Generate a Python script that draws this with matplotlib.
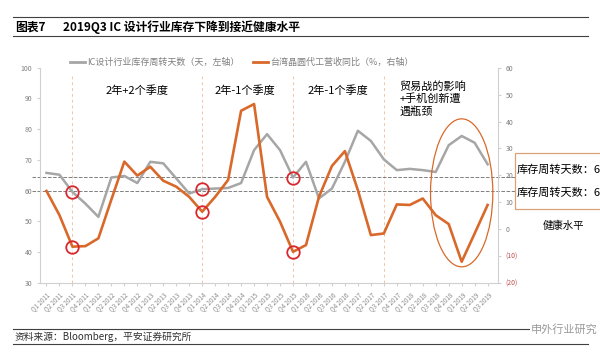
import numpy as np
import matplotlib
matplotlib.use('Agg')
from matplotlib import pyplot as plt
from matplotlib.patches import Ellipse, Rectangle

plt.rcParams['font.family'] = ['Noto Sans CJK SC', 'DejaVu Sans']

quarters = ['Q%d %d' % (q, y) for y in range(2011, 2020) for q in range(1, 5)][:35]

# IC design inventory turnover days (left axis)
inv_days = [65.8, 65.2, 59.6, 55.8, 51.5, 64.3, 64.8, 62.5, 69.4, 68.9,
            64.0, 59.1, 60.5, 60.7, 60.9, 62.5, 73.2, 78.4, 73.2, 64.3,
            69.4, 57.5, 60.7, 69.4, 79.5, 76.2, 70.2, 66.7, 67.1, 66.7,
            66.1, 74.8, 77.8, 75.6, 68.6]
# Taiwan foundry revenue YoY % (right axis)
foundry_yoy = [14.2, 5.2, -6.5, -6.3, -3.4, 11.0, 25.1, 19.9, 23.2, 18.0,
               15.8, 12.0, 6.5, 12.0, 18.3, 44.0, 46.5, 12.0, 2.8, -8.4,
               -5.9, 12.0, 23.5, 29.0, 14.5, -2.2, -1.6, 9.2, 9.0, 11.4,
               5.2, 1.9, -12.1, -1.6, 9.0]

healthy_levels = [64.5, 60.0]
cycle_marks = [2, 12, 19, 26]
cycle_labels = ['2年+2个季度', '2年-1个季度', '2年-1个季度']

gray = '#a6a6a6'
orange = '#d9692a'

fig = plt.figure(figsize=(6, 3.57), dpi=100)
ax = fig.add_axes([40 / 600, 1 - 283 / 357, 458 / 600, 215.3 / 357])
ax2 = ax.twinx()

x = np.arange(len(quarters))
ax.plot(x, inv_days, color=gray, lw=1.8, zorder=3)
ax2.plot(x, foundry_yoy, color=orange, lw=1.9, zorder=3)

ax.set_xlim(-0.5, 34.8)
ax.set_ylim(30, 100)
ax2.set_ylim(-20, 60)

for lv in healthy_levels:
    ax.plot([-1.13, 36.1], [lv, lv], ls='--', color='#7f7f7f', lw=0.7,
            clip_on=False, zorder=2)

for m in cycle_marks:
    ax.axvline(m, ymin=0, ymax=0.96, color='#f2c4ad', ls=(0, (3, 3)), lw=0.7, zorder=1)

# red circles at cycle bottoms
for m in cycle_marks[:3]:
    ax.plot(m, inv_days[m], 'o', ms=9, mfc='none', mec='#d9272e', mew=1.3, zorder=5)
    ax2.plot(m, foundry_yoy[m], 'o', ms=9, mfc='none', mec='#d9272e', mew=1.3, zorder=5)

ax2.add_patch(Ellipse((32, 13.5), 4.8, 55, fill=False, ec=orange, lw=0.9, zorder=4))

# axes styling
ax.spines['top'].set_visible(False)
ax.spines['right'].set_visible(False)
ax2.spines['left'].set_visible(False)
ax2.spines['top'].set_visible(False)
ax.spines['left'].set_color('#d0d0d0')
ax.spines['bottom'].set_color('#d0d0d0')
ax2.spines['right'].set_color('#d0d0d0')
ax2.spines['bottom'].set_visible(False)

ax.set_yticks(range(30, 101, 10))
ax.tick_params(axis='y', labelsize=5, colors='#7f7f7f', length=2, color='#d0d0d0')
ax2.set_yticks(range(-20, 61, 10))
ax2.set_yticklabels(['(20)', '(10)'] + [str(v) for v in range(0, 61, 10)])
ax2.tick_params(axis='y', labelsize=5, colors='#7f7f7f', length=2, color='#d0d0d0')
for lab in ax2.get_yticklabels()[:2]:
    lab.set_color('#c0504d')

ax.set_xticks(x)
ax.set_xticklabels(quarters, rotation=45, ha='right', rotation_mode='anchor')
ax.tick_params(axis='x', labelsize=4.5, colors='#8a8a8a', length=2, color='#d0d0d0')

# annotations
ax.text(7, 92.5, cycle_labels[0], fontsize=8, ha='center', va='center')
ax.text(15.3, 92.5, cycle_labels[1], fontsize=8, ha='center', va='center')
ax.text(22.5, 92.5, cycle_labels[2], fontsize=8, ha='center', va='center')
ax.text(27.2, 95.8, '贸易战的影响\n+手机创新遭\n遇瓶颈', fontsize=8, ha='left', va='top',
        linespacing=1.25)

# title
fig.add_artist(plt.Line2D([13 / 600, 588 / 600], [1 - 17 / 357] * 2, color='#404040', lw=0.8))
fig.add_artist(plt.Line2D([13 / 600, 588 / 600], [1 - 36 / 357] * 2, color='#404040', lw=0.8))
fig.text(15 / 600, 1 - 27 / 357, '图表7', fontsize=8.5, fontweight='bold', va='center')
fig.text(63 / 600, 1 - 27 / 357, '2019Q3 IC 设计行业库存下降到接近健康水平', fontsize=8.5,
         fontweight='bold', va='center')

# legend
fig.add_artist(plt.Line2D([70 / 600, 85 / 600], [1 - 62 / 357] * 2, color=gray, lw=2))
fig.text(87 / 600, 1 - 62 / 357, 'IC设计行业库存周转天数（天，左轴）', fontsize=6.5,
         color='#808080', va='center')
fig.add_artist(plt.Line2D([253 / 600, 268 / 600], [1 - 62 / 357] * 2, color=orange, lw=2))
fig.text(270 / 600, 1 - 62 / 357, '台湾晶圆代工营收同比（%，右轴）', fontsize=6.5,
         color='#808080', va='center')

# right box (runs off the figure edge)
fig.add_artist(Rectangle((515 / 600, 1 - 209 / 357), 130 / 600, 56 / 357,
                         transform=fig.transFigure, fill=False, ec='#d9a07a', lw=0.9))
fig.text(517 / 600, 1 - 170 / 357, '库存周转天数：6', fontsize=8, va='center')
fig.text(517 / 600, 1 - 193 / 357, '库存周转天数：6', fontsize=8, va='center')
fig.text(563 / 600, 1 - 226 / 357, '健康水平', fontsize=7.5, va='center', ha='center')

# source
fig.add_artist(plt.Line2D([13 / 600, 588 / 600], [1 - 329 / 357] * 2, color='#404040', lw=0.8))
fig.add_artist(plt.Line2D([13 / 600, 588 / 600], [1 - 344 / 357] * 2, color='#404040', lw=0.8))
fig.text(15 / 600, 1 - 337 / 357, '资料来源：Bloomberg，平安证券研究所', fontsize=7,
         style='italic', va='center', color='#303030')
fig.text(598 / 600, 1 - 329 / 357, '申外行业研究', fontsize=8, va='center', ha='right',
         color='#9a9a9a', bbox=dict(fc='white', ec='none', pad=1))

fig.savefig('out.png', dpi=100)
